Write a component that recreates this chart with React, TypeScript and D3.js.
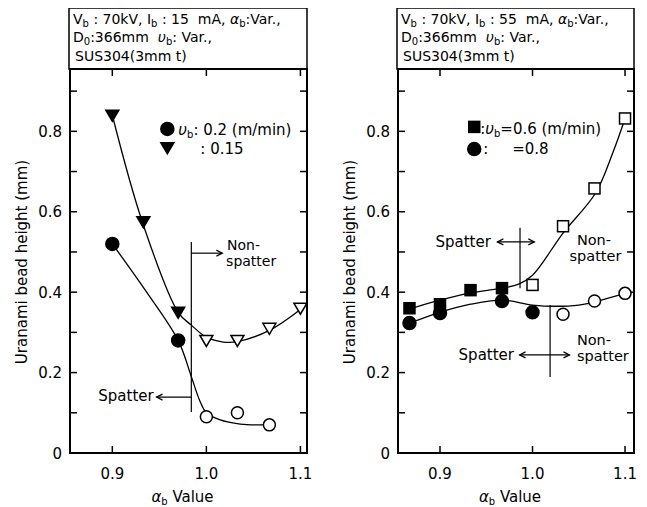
import React from 'react';
import * as d3 from 'd3';

// ---------- data ----------
const yTickValues = [0.1, 0.2, 0.3, 0.4, 0.5, 0.6, 0.7, 0.8, 0.9];
const yLabelValues = [0, 0.2, 0.4, 0.6, 0.8];
const yLabels = ['0', '0.2', '0.4', '0.6', '0.8'];
const xTickValues = [0.9, 1.0, 1.1];
const xLabels = ['0.9', '1.0', '1.1'];

// Left panel: Ib = 15 mA
const leftCircleX = [0.9, 0.97, 1.0, 1.033, 1.067];
const leftCircleY = [0.52, 0.28, 0.09, 0.1, 0.07];
const leftCircleFilled = [true, true, false, false, false];
const leftCircleFitX = [0.9, 0.935, 0.97, 0.984, 0.993, 1.0, 1.014, 1.036, 1.065];
const leftCircleFitY = [0.52, 0.405, 0.28, 0.19, 0.13, 0.1, 0.083, 0.072, 0.07];

const leftTriX = [0.9, 0.933, 0.97, 1.0, 1.033, 1.067, 1.1];
const leftTriY = [0.84, 0.575, 0.35, 0.28, 0.28, 0.31, 0.36];
const leftTriFilled = [true, true, true, false, false, false, false];
const leftTriFitX = [0.9, 0.932, 0.97, 0.984, 1.0, 1.018, 1.033, 1.067, 1.1];
const leftTriFitY = [0.84, 0.574, 0.35, 0.318, 0.288, 0.276, 0.277, 0.305, 0.357];

// Right panel: Ib = 55 mA
const rightSqX = [0.867, 0.9, 0.933, 0.967, 1.0, 1.033, 1.067, 1.1];
const rightSqY = [0.36, 0.37, 0.405, 0.41, 0.418, 0.564, 0.658, 0.832];
const rightSqFilled = [true, true, true, true, false, false, false, false];
const rightSqFitX = [0.867, 0.9, 0.933, 0.967, 0.985, 1.0, 1.033, 1.068, 1.087, 1.1];
const rightSqFitY = [0.358, 0.38, 0.398, 0.41, 0.42, 0.442, 0.547, 0.646, 0.748, 0.832];

const rightCircX = [0.867, 0.9, 0.967, 1.0, 1.033, 1.067, 1.1];
const rightCircY = [0.323, 0.348, 0.378, 0.35, 0.345, 0.378, 0.397];
const rightCircFilled = [true, true, true, true, false, false, false];
const rightCircFitX = [0.867, 0.9, 0.933, 0.967, 1.0, 1.025, 1.05, 1.067, 1.1];
const rightCircFitY = [0.323, 0.35, 0.37, 0.38, 0.368, 0.365, 0.368, 0.376, 0.397];

const FONT = '"DejaVu Sans", sans-serif';

type Frame = { left: number; right: number; top: number; bottom: number };
type Seg = [string, boolean?, boolean?]; // text, subscript, italic

function Rich({ x, y, segs, size = 14, subSize = 10, anchor = 'start' }: { x: number; y: number; segs: Seg[]; size?: number; subSize?: number; anchor?: string }) {
  let cur = 0;
  return (
    <text x={x} y={y} fontFamily={FONT} fontSize={size} textAnchor={anchor} style={{ whiteSpace: 'pre' }}>
      {segs.map(([t, sub, ital], i) => {
        const target = sub ? 3 : 0;
        const dy = target - cur;
        cur = target;
        return (
          <tspan key={i} dy={dy} fontSize={sub ? subSize : size} fontStyle={ital ? 'italic' : 'normal'}>{t}</tspan>
        );
      })}
    </text>
  );
}

function Marker({ kind, x, y, filled }: { kind: string; x: number; y: number; filled: boolean }) {
  const fill = filled ? '#000' : '#fff';
  if (kind === 'circle') return <circle cx={x} cy={y} r={filled ? 6.5 : 6} fill={fill} stroke="#000" strokeWidth={1.5} />;
  if (kind === 'square') return <rect x={x - 5.5} y={y - 5.5} width={11} height={11} fill={fill} stroke="#000" strokeWidth={1.5} />;
  return <path d={`M${x - 6.5},${y - 5} L${x + 6.5},${y - 5} L${x},${y + 6} Z`} fill={fill} stroke="#000" strokeWidth={1.5} />;
}

function Panel({ frame, xDomain, current, series, children }: any) {
  const x = d3.scaleLinear().domain(xDomain).range([frame.left, frame.right]);
  const y = d3.scaleLinear().domain([0, 0.955]).range([frame.bottom, frame.top]);
  const line = d3.line<[number, number]>().x(d => x(d[0])).y(d => y(d[1])).curve(d3.curveCatmullRom.alpha(0.5));
  const cx = (frame.left + frame.right) / 2;
  return (
    <g>
      <rect x={frame.left - 1} y={8} width={frame.right - frame.left + 1} height={frame.top - 8} fill="none" stroke="#000" strokeWidth={1.5} />
      <Rich x={frame.left + 3} y={24} segs={[['V'], ['b', true], [' : 70kV, I'], ['b', true], [` : ${current}  mA, `], ['α', false, true], ['b', true], [':Var.,']]} />
      <Rich x={frame.left + 3} y={42} segs={[['D'], ['0', true], [':366mm  '], ['υ', false, true], ['b', true], [': Var.,']]} />
      <Rich x={frame.left + 5} y={61} segs={[['SUS304(3mm t)']]} />
      <rect x={frame.left} y={frame.top} width={frame.right - frame.left} height={frame.bottom - frame.top} fill="none" stroke="#000" strokeWidth={2} />
      {yTickValues.map(v => (
        <g key={v}>
          <line x1={frame.left} x2={frame.left + 7} y1={y(v)} y2={y(v)} stroke="#000" strokeWidth={1.5} />
          <line x1={frame.right} x2={frame.right - 7} y1={y(v)} y2={y(v)} stroke="#000" strokeWidth={1.5} />
        </g>
      ))}
      {yLabelValues.map((v, i) => (
        <text key={v} x={frame.left - 8} y={y(v) + 5.5} textAnchor="end" fontFamily={FONT} fontSize={15}>{yLabels[i]}</text>
      ))}
      {xTickValues.map((v, i) => (
        <g key={v}>
          <line x1={x(v)} x2={x(v)} y1={frame.bottom} y2={frame.bottom - 7} stroke="#000" strokeWidth={1.5} />
          <line x1={x(v)} x2={x(v)} y1={frame.top} y2={frame.top + 7} stroke="#000" strokeWidth={1.5} />
          <text x={x(v)} y={479} textAnchor="middle" fontFamily={FONT} fontSize={15}>{xLabels[i]}</text>
        </g>
      ))}
      <text transform={`translate(${frame.left - 43},${(frame.top + frame.bottom) / 2 + 1}) rotate(-90)`} textAnchor="middle" fontFamily={FONT} fontSize={15}>Uranami bead height (mm)</text>
      <Rich x={cx - 6} y={502} size={15} anchor="middle" segs={[['α', false, true], ['b', true], [' Value']]} />
      {series.map((s: any, i: number) => (
        <g key={i}>
          <path d={line(s.fitX.map((v: number, j: number) => [v, s.fitY[j]]))!} fill="none" stroke="#000" strokeWidth={1.3} />
          {s.xs.map((v: number, j: number) => (
            <Marker key={j} kind={s.kind} x={x(v)} y={y(s.ys[j])} filled={s.filled[j]} />
          ))}
        </g>
      ))}
      {children(x, y)}
    </g>
  );
}

const arrowHead = (x: number, y: number, dir: number) =>
  `M${x - dir * 6},${y - 3} L${x},${y} L${x - dir * 6},${y + 3}`;

export default function App() {
  const leftFrame: Frame = { left: 70, right: 307, top: 69, bottom: 453 };
  const rightFrame: Frame = { left: 398, right: 634, top: 69, bottom: 453 };
  const st = { stroke: '#000', strokeWidth: 1.2, fill: 'none' };
  return (
    <svg width={647} height={507} style={{ display: 'block', margin: '-8px 0 0 -8px' }}>
      <Panel
        frame={leftFrame}
        xDomain={[0.855, 1.107]}
        current="15"
        series={[
          { kind: 'triangle', xs: leftTriX, ys: leftTriY, filled: leftTriFilled, fitX: leftTriFitX, fitY: leftTriFitY },
          { kind: 'circle', xs: leftCircleX, ys: leftCircleY, filled: leftCircleFilled, fitX: leftCircleFitX, fitY: leftCircleFitY },
        ]}
      >
        {(x: any, y: any) => (
          <g fontFamily={FONT} fontSize={15}>
            <Marker kind="circle" x={x(0.9585)} y={y(0.806)} filled={true} />
            <Rich x={x(0.9585) + 11} y={y(0.806) + 6} size={15} segs={[['υ', false, true], ['b', true], [': 0.2 (m/min)']]} />
            <Marker kind="triangle" x={x(0.9585)} y={y(0.759)} filled={true} />
            <text x={x(0.9585) + 33} y={y(0.759) + 6}>: 0.15</text>
            <line x1={x(0.984)} x2={x(0.984)} y1={y(0.525)} y2={y(0.102)} {...st} />
            <line x1={x(0.984)} x2={x(1.017)} y1={y(0.497)} y2={y(0.497)} {...st} />
            <path d={arrowHead(x(1.017), y(0.497), 1)} {...st} />
            <text x={x(1.022)} y={250} fontSize={14}>Non-</text>
            <text x={x(1.021)} y={266} fontSize={14}>spatter</text>
            <line x1={x(0.984)} x2={x(0.947)} y1={y(0.139)} y2={y(0.139)} {...st} />
            <path d={arrowHead(x(0.947), y(0.139), -1)} {...st} />
            <text x={x(0.944)} y={y(0.139) + 4} textAnchor="end">Spatter</text>
          </g>
        )}
      </Panel>
      <Panel
        frame={rightFrame}
        xDomain={[0.8546, 1.1097]}
        current="55"
        series={[
          { kind: 'square', xs: rightSqX, ys: rightSqY, filled: rightSqFilled, fitX: rightSqFitX, fitY: rightSqFitY },
          { kind: 'circle', xs: rightCircX, ys: rightCircY, filled: rightCircFilled, fitX: rightCircFitX, fitY: rightCircFitY },
        ]}
      >
        {(x: any, y: any) => (
          <g fontFamily={FONT} fontSize={15}>
            <Marker kind="square" x={x(0.937)} y={y(0.811)} filled={true} />
            <Rich x={x(0.937) + 6} y={y(0.811) + 7} size={15} segs={[[':'], ['υ', false, true], ['b', true], ['=0.6 (m/min)']]} />
            <Marker kind="circle" x={x(0.937)} y={y(0.756)} filled={true} />
            <text x={x(0.937) + 9} y={y(0.756) + 5}>:</text>
            <text x={x(0.978)} y={y(0.756) + 5}>=0.8</text>
            <line x1={x(0.9865)} x2={x(0.9865)} y1={y(0.56)} y2={y(0.41)} {...st} />
            <line x1={x(0.962)} x2={x(1.002)} y1={y(0.525)} y2={y(0.525)} {...st} />
            <path d={arrowHead(x(1.002), y(0.525), 1)} {...st} />
            <path d={arrowHead(x(0.962), y(0.525), -1)} {...st} />
            <text x={x(0.955)} y={y(0.525) + 5} textAnchor="end">Spatter</text>
            <text x={x(1.048)} y={245} fontSize={14.5}>Non-</text>
            <text x={x(1.04)} y={261} fontSize={14.5}>spatter</text>
            <line x1={x(1.019)} x2={x(1.019)} y1={y(0.368)} y2={y(0.189)} {...st} />
            <line x1={x(0.986)} x2={x(1.04)} y1={y(0.244)} y2={y(0.244)} {...st} />
            <path d={arrowHead(x(1.04), y(0.244), 1)} {...st} />
            <path d={arrowHead(x(0.986), y(0.244), -1)} {...st} />
            <text x={x(0.98)} y={y(0.244) + 5} textAnchor="end">Spatter</text>
            <text x={x(1.048)} y={345} fontSize={14.5}>Non-</text>
            <text x={x(1.048)} y={361} fontSize={14.5}>spatter</text>
          </g>
        )}
      </Panel>
    </svg>
  );
}
